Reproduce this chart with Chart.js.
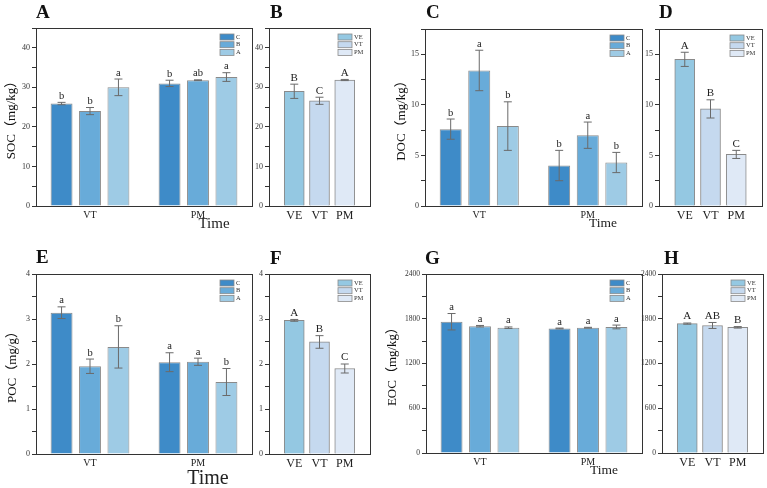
<!DOCTYPE html>
<html>
<head>
<meta charset="utf-8">
<script src="https://cdn.jsdelivr.net/npm/chart.js@4.4.0/dist/chart.umd.min.js"></script>
<style>
  body { margin: 0; background: #fff; }
  #fig { position: relative; width: 767px; height: 488px; overflow: hidden;
         font-family: "Liberation Serif", "Noto Sans CJK SC", serif; }
  .box { position: absolute; }
  .tag { position: absolute; font-weight: bold; font-size: 19px; line-height: 18px; color: #111; }
  .time { position: absolute; color: #222; transform: translate(-50%, -50%); white-space: nowrap; }
</style>
</head>
<body>
<div id="fig"></div>
<script>
const SERIF = '"Liberation Serif", "Noto Sans CJK SC", serif';

// grouped panels: treatments over sampling times
const times = ['VT', 'PM'];
const treatments = ['C', 'B', 'A'];
const treatColors = ['#3e8bc8', '#68abd9', '#9ecbe5'];
// single panels: growth stages
const stages = ['VE', 'VT', 'PM'];
const stageColors = ['#94c8e2', '#c5d9ef', '#dfe9f6'];

// A - SOC, rows = C, B, A ; columns = VT, PM
const socMean = [[25.9, 31.0], [24.0, 31.8], [30.0, 32.6]];
const socErr  = [[0.3, 0.8], [0.9, 0.1], [2.1, 1.1]];
const socSig  = [['b', 'b'], ['b', 'ab'], ['a', 'a']];
// B - SOC by stage
const socStage    = [29.0, 26.6, 31.85];
const socStageErr = [1.8, 0.9, 0.15];
const socStageSig = ['B', 'C', 'A'];

// C - DOC
const docMean = [[7.6, 4.0], [13.4, 7.0], [7.9, 4.3]];
const docErr  = [[1.0, 1.5], [2.0, 1.3], [2.4, 1.0]];
const docSig  = [['b', 'b'], ['a', 'a'], ['b', 'b']];
// D - DOC by stage
const docStage    = [14.5, 9.6, 5.1];
const docStageErr = [0.7, 0.9, 0.4];
const docStageSig = ['A', 'B', 'C'];

// E - POC
const pocMean = [[3.14, 2.04], [1.95, 2.05], [2.38, 1.6]];
const pocErr  = [[0.13, 0.21], [0.16, 0.08], [0.47, 0.3]];
const pocSig  = [['a', 'a'], ['b', 'a'], ['b', 'b']];
// F - POC by stage
const pocStage    = [2.97, 2.49, 1.9];
const pocStageErr = [0.02, 0.14, 0.1];
const pocStageSig = ['A', 'B', 'C'];

// G - EOC
const eocMean = [[1760, 1670], [1700, 1680], [1680, 1690]];
const eocErr  = [[110, 5], [10, 5], [10, 25]];
const eocSig  = [['a', 'a'], ['a', 'a'], ['a', 'a']];
// H - EOC by stage
const eocStage    = [1735, 1710, 1685];
const eocStageErr = [8, 40, 10];
const eocStageSig = ['A', 'AB', 'B'];

// error bars, letters, plot frame and the small legend
const extras = {
  id: 'extras',
  afterDatasetsDraw(chart, args, opts) {
    const ctx = chart.ctx, ys = chart.scales.y, a = chart.chartArea;
    ctx.save();
    chart.data.datasets.forEach((ds, i) => {
      const meta = chart.getDatasetMeta(i);
      meta.data.forEach((bar, j) => {
        const v = ds.data[j];
        if (v == null) return;
        const e = ds.err[j];
        const top = ys.getPixelForValue(v + e), bot = ys.getPixelForValue(v - e);
        ctx.strokeStyle = '#6a6a6a';
        ctx.lineWidth = 1;
        ctx.beginPath();
        ctx.moveTo(bar.x, top); ctx.lineTo(bar.x, bot);
        ctx.moveTo(bar.x - 4, top); ctx.lineTo(bar.x + 4, top);
        ctx.moveTo(bar.x - 4, bot); ctx.lineTo(bar.x + 4, bot);
        ctx.stroke();
        ctx.fillStyle = '#222';
        ctx.font = opts.sigSize + 'px ' + SERIF;
        ctx.textAlign = 'center';
        ctx.textBaseline = 'bottom';
        ctx.fillText(ds.sig[j], bar.x, Math.min(top, bar.y) - 1);
      });
    });
    // frame
    ctx.strokeStyle = '#333';
    ctx.lineWidth = 1;
    ctx.strokeRect(Math.round(a.left) + 0.5, Math.round(a.top) + 0.5,
                   Math.round(a.right - a.left), Math.round(a.bottom - a.top));
    // legend
    ctx.font = '6.5px ' + SERIF;
    ctx.textAlign = 'left';
    ctx.textBaseline = 'middle';
    opts.items.forEach((it, k) => {
      const bx = a.right - 32, by = a.top + 6 + k * 7.7;
      ctx.fillStyle = it.color;
      ctx.fillRect(bx, by, 14, 6);
      ctx.strokeStyle = '#8a8a8a';
      ctx.lineWidth = 0.8;
      ctx.strokeRect(bx, by, 14, 6);
      ctx.fillStyle = '#333';
      ctx.fillText(it.label, bx + 16, by + 3);
    });
    ctx.restore();
  }
};

const fig = document.getElementById('fig');

function yAxis(p) {
  return {
    min: 0, max: p.ymax,
    ticks: {
      stepSize: p.step / 2, autoSkip: false, padding: 2, color: '#333',
      font: { family: SERIF, size: p.tickSize || 8 },
      callback: v => Math.abs(v / p.step - Math.round(v / p.step)) < 1e-6 ? String(v) : ''
    },
    grid: { display: true, drawOnChartArea: false, drawTicks: true, tickLength: 4, color: '#333' },
    border: { display: true, color: '#333' },
    title: {
      display: !!p.ytitle, text: p.ytitle, color: '#111',
      font: { family: SERIF, size: 13 }, padding: { top: p.tpad || 0, bottom: 0 }
    },
    afterFit: s => { s.width = p.area[0] - p.box[0]; }
  };
}

function makePanel(p) {
  const [bl, bt, bw, bh] = p.box;
  const [L, T, R, B] = p.area;
  const div = document.createElement('div');
  div.className = 'box';
  div.style.cssText = `left:${bl}px;top:${bt}px;width:${bw}px;height:${bh}px;`;
  const cv = document.createElement('canvas');
  div.appendChild(cv);
  fig.appendChild(div);

  let labels, datasets, items, xOpts;
  if (p.kind === 'group') {
    labels = times;
    datasets = treatments.map((t, i) => ({
      label: t, data: p.mean[i], err: p.err[i], sig: p.sig[i],
      backgroundColor: treatColors[i], borderColor: '#8a8a8a', borderWidth: 1,
      categoryPercentage: 0.79, barPercentage: 0.77
    }));
    items = treatments.map((t, i) => ({ label: t, color: treatColors[i] }));
    xOpts = { offset: true, fontSize: 10 };
  } else {
    labels = ['', ...stages, ''];
    datasets = [{
      label: p.id, data: [null, ...p.mean, null], err: [0, ...p.err, 0], sig: ['', ...p.sig, ''],
      backgroundColor: ['#fff', ...stageColors, '#fff'], borderColor: '#8a8a8a', borderWidth: 1,
      barThickness: 20
    }];
    items = stages.map((s, i) => ({ label: s, color: stageColors[i] }));
    xOpts = { offset: false, fontSize: 12 };
  }

  new Chart(cv, {
    type: 'bar',
    data: { labels, datasets },
    options: {
      responsive: true, maintainAspectRatio: false, animation: false,
      layout: { padding: { left: 0, top: T - bt, right: bl + bw - R, bottom: 0 } },
      plugins: {
        legend: { display: false }, tooltip: { enabled: false },
        extras: { items, sigSize: p.kind === 'group' ? 10.5 : 11 }
      },
      scales: {
        x: {
          type: 'category', offset: xOpts.offset,
          grid: { display: false, drawTicks: false },
          border: { display: true, color: '#333' },
          ticks: { autoSkip: false, maxRotation: 0, minRotation: 0, padding: 3, color: '#222',
                   font: { family: SERIF, size: xOpts.fontSize } },
          afterFit: s => { s.height = bt + bh - B; }
        },
        y: yAxis(p)
      }
    },
    plugins: [extras]
  });

  const tag = document.createElement('div');
  tag.className = 'tag';
  tag.textContent = p.id;
  tag.style.left = p.tag[0] + 'px';
  tag.style.top = p.tag[1] + 'px';
  fig.appendChild(tag);

  if (p.time) {
    const tm = document.createElement('div');
    tm.className = 'time';
    tm.textContent = 'Time';
    tm.style.left = p.time[0] + 'px';
    tm.style.top = p.time[1] + 'px';
    tm.style.fontSize = p.time[2] + 'px';
    fig.appendChild(tm);
  }
}

const panels = [
  { id: 'A', kind: 'group', box: [0, 18, 256, 204], area: [36, 28, 252, 206], ymax: 45, step: 10,
    ytitle: 'SOC（mg/kg）', tpad: 4.2, mean: socMean, err: socErr, sig: socSig, tag: [36, 3], time: [214, 223, 15] },
  { id: 'B', kind: 'single', box: [252, 18, 122, 206], area: [269, 28, 370, 206], ymax: 45, step: 10,
    mean: socStage, err: socStageErr, sig: socStageSig, tag: [270, 3] },
  { id: 'C', kind: 'group', box: [383, 18, 263, 204], area: [425, 29, 642, 206], ymax: 17.5, step: 5,
    ytitle: 'DOC（mg/kg）', tpad: 10.7, mean: docMean, err: docErr, sig: docSig, tag: [426, 3], time: [603, 223, 13.5] },
  { id: 'D', kind: 'single', box: [644, 18, 122, 206], area: [659, 29, 762, 206], ymax: 17.5, step: 5,
    mean: docStage, err: docStageErr, sig: docStageSig, tag: [659, 3] },
  { id: 'E', kind: 'group', box: [0, 264, 256, 206], area: [36, 274, 252, 454], ymax: 4, step: 1,
    ytitle: 'POC（mg/g）', tpad: 5.2, mean: pocMean, err: pocErr, sig: pocSig, tag: [36, 248], time: [208, 477, 20] },
  { id: 'F', kind: 'single', box: [252, 264, 122, 208], area: [269, 274, 370, 454], ymax: 4, step: 1,
    mean: pocStage, err: pocStageErr, sig: pocStageSig, tag: [270, 249] },
  { id: 'G', kind: 'group', box: [380, 264, 266, 206], area: [426, 274, 642, 453], ymax: 2400, step: 600,
    tickSize: 7.5, ytitle: 'EOC（mg/kg）', tpad: 5.2, mean: eocMean, err: eocErr, sig: eocSig, tag: [425, 249], time: [604, 470, 13.5] },
  { id: 'H', kind: 'single', box: [638, 264, 129, 208], area: [662, 274, 763, 453], ymax: 2400, step: 600,
    tickSize: 7.5, mean: eocStage, err: eocStageErr, sig: eocStageSig, tag: [664, 249] }
];

panels.forEach(makePanel);
</script>
</body>
</html>
